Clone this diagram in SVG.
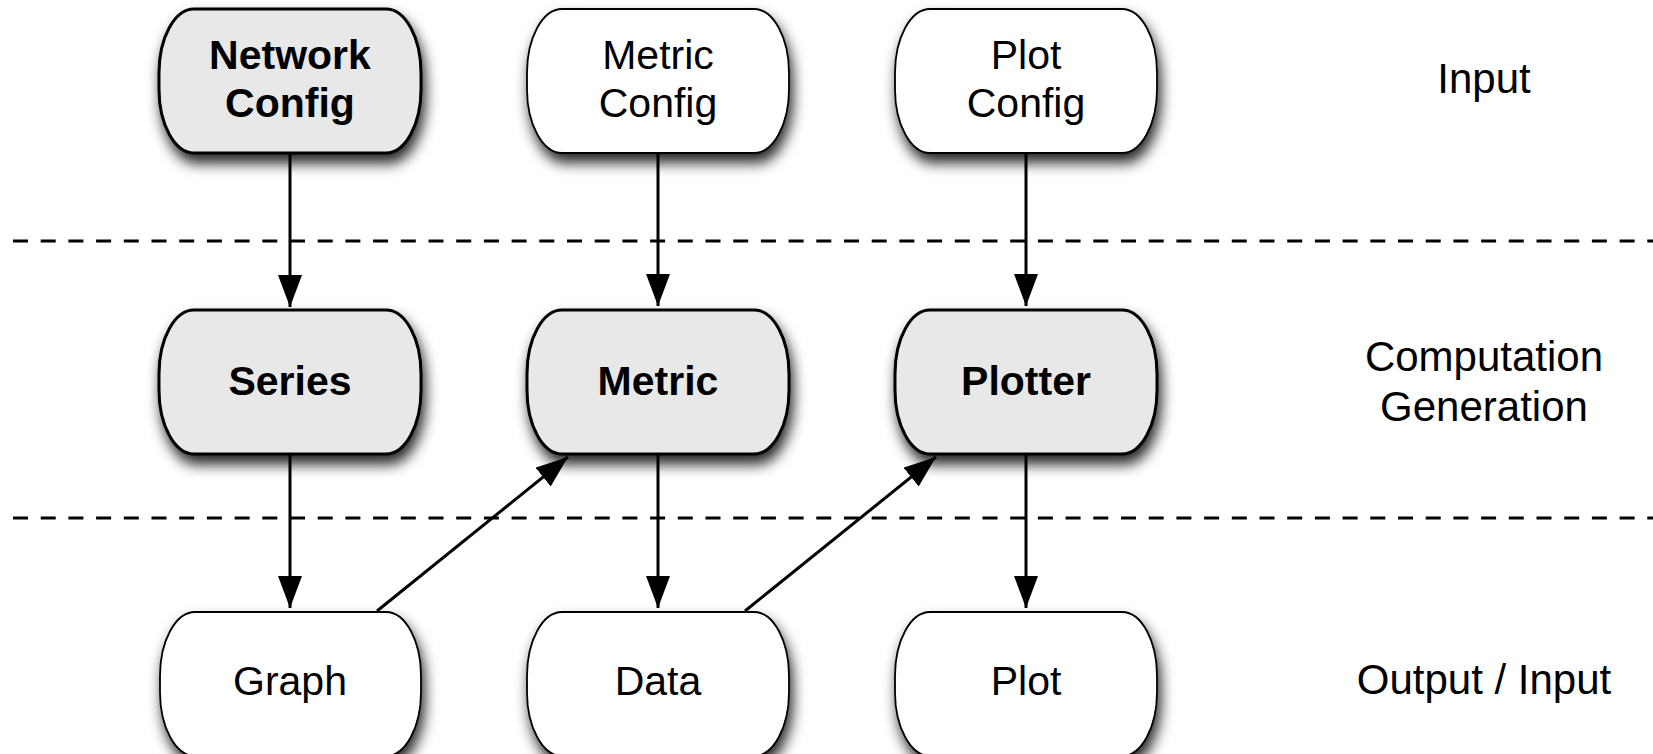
<svg xmlns="http://www.w3.org/2000/svg" width="1653" height="754" viewBox="0 0 1653 754">
  <style>
    .node { stroke: #000; }
    .gray { fill: #e8e8e8; stroke-width: 3; }
    .white { fill: #ffffff; stroke-width: 1.8; }
    text { font-family: "Liberation Sans", Arial, Helvetica, sans-serif; font-size: 41px; text-anchor: middle; fill: #000; }
    .b { font-weight: bold; }
    .lbl { font-size: 42px; }
    .conn { stroke: #000; stroke-width: 3; fill: none; marker-end: url(#arrow); }
    .sep { stroke: #000; stroke-width: 3; stroke-dasharray: 15 12.7; fill: none; }
  </style>
  <defs>
    <filter id="shadow" x="-20%" y="-20%" width="140%" height="150%">
      <feDropShadow dx="3" dy="9" stdDeviation="7" flood-color="#000" flood-opacity="0.85"/>
    </filter>
    <marker id="arrow" markerUnits="userSpaceOnUse" markerWidth="34" markerHeight="26" refX="32" refY="12" orient="auto">
      <path d="M0,0 L32,12 L0,24 Z" fill="#000"/>
    </marker>
  </defs>

  <rect width="1653" height="754" fill="#ffffff"/>

  <g id="separators">
    <line class="sep" x1="13" y1="241" x2="1653" y2="241"/>
    <line class="sep" x1="13" y1="518" x2="1653" y2="518"/>
  </g>

  <g id="node-network-config">
    <rect class="node gray" x="159" y="9" width="262" height="144" rx="35" ry="64" filter="url(#shadow)"/>
    <text class="b" x="290" y="69">Network</text>
    <text class="b" x="290" y="117">Config</text>
  </g>
  <g id="node-metric-config">
    <rect class="node white" x="527" y="9" width="262" height="144" rx="35" ry="64" filter="url(#shadow)"/>
    <text x="658" y="69">Metric</text>
    <text x="658" y="117">Config</text>
  </g>
  <g id="node-plot-config">
    <rect class="node white" x="895" y="9" width="262" height="144" rx="35" ry="64" filter="url(#shadow)"/>
    <text x="1026" y="69">Plot</text>
    <text x="1026" y="117">Config</text>
  </g>

  <g id="node-series">
    <rect class="node gray" x="159" y="310" width="262" height="144" rx="35" ry="64" filter="url(#shadow)"/>
    <text class="b" x="290" y="395">Series</text>
  </g>
  <g id="node-metric">
    <rect class="node gray" x="527" y="310" width="262" height="144" rx="35" ry="64" filter="url(#shadow)"/>
    <text class="b" x="658" y="395">Metric</text>
  </g>
  <g id="node-plotter">
    <rect class="node gray" x="895" y="310" width="262" height="144" rx="35" ry="64" filter="url(#shadow)"/>
    <text class="b" x="1026" y="395">Plotter</text>
  </g>

  <g id="node-graph">
    <rect class="node white" x="160" y="612" width="261" height="144" rx="35" ry="64" filter="url(#shadow)"/>
    <text x="290" y="695">Graph</text>
  </g>
  <g id="node-data">
    <rect class="node white" x="527" y="612" width="262" height="144" rx="35" ry="64" filter="url(#shadow)"/>
    <text x="658" y="695">Data</text>
  </g>
  <g id="node-plot">
    <rect class="node white" x="895" y="612" width="262" height="144" rx="35" ry="64" filter="url(#shadow)"/>
    <text x="1026" y="695">Plot</text>
  </g>

  <g id="connectors">
    <line class="conn" x1="290" y1="153" x2="290" y2="307"/>
    <line class="conn" x1="658" y1="153" x2="658" y2="306"/>
    <line class="conn" x1="1026" y1="153" x2="1026" y2="306"/>
    <line class="conn" x1="290" y1="454" x2="290" y2="608"/>
    <line class="conn" x1="658" y1="454" x2="658" y2="608"/>
    <line class="conn" x1="1026" y1="454" x2="1026" y2="608"/>
    <line class="conn" x1="377" y1="611" x2="568" y2="457"/>
    <line class="conn" x1="745" y1="611" x2="936" y2="457"/>
  </g>

  <g id="layer-labels">
    <text class="lbl" x="1484" y="93">Input</text>
    <text class="lbl" x="1484" y="371">Computation</text>
    <text class="lbl" x="1484" y="421">Generation</text>
    <text class="lbl" x="1484" y="694">Output / Input</text>
  </g>
</svg>
